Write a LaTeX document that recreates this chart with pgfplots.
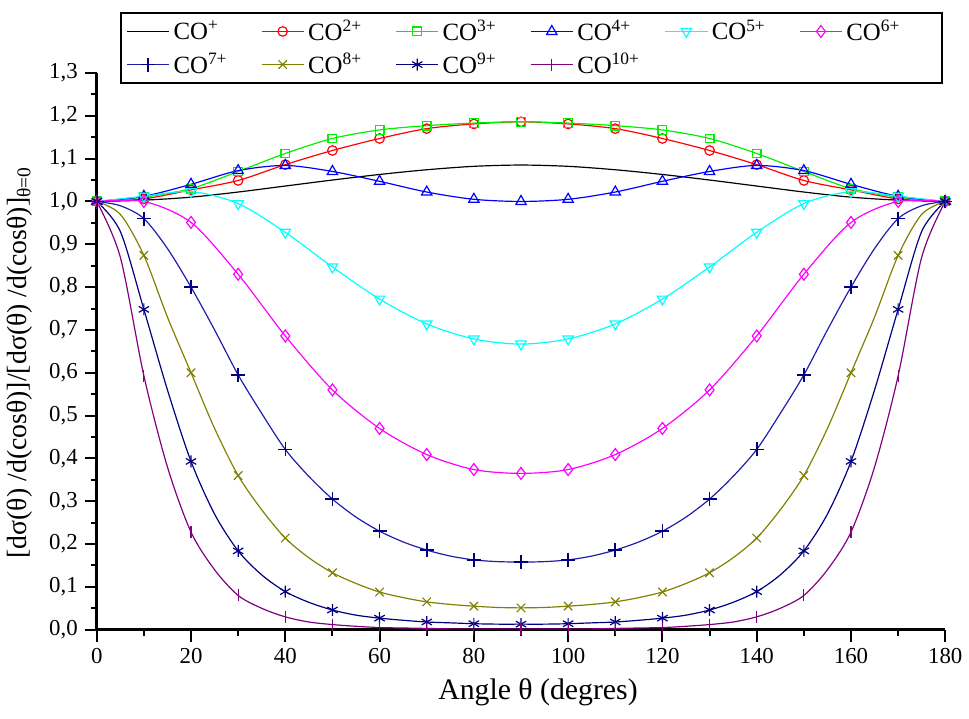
\documentclass[border=0pt]{standalone}
\usepackage{pgfplots}
\usepackage{pgfplotstable}
\pgfplotsset{compat=1.18}
\usepackage{fontspec}
\setmainfont{Liberation Serif}
\definecolor{cored}{RGB}{255,0,0}
\definecolor{cogreen}{RGB}{0,240,0}
\definecolor{coblue}{RGB}{0,0,255}
\definecolor{cocyan}{RGB}{0,255,255}
\definecolor{comag}{RGB}{255,0,255}
\definecolor{coseven}{RGB}{30,30,170}
\definecolor{coolive}{RGB}{128,128,0}
\definecolor{conavy}{RGB}{0,0,128}
\definecolor{copurple}{RGB}{128,0,128}
\newcommand{\lentry}[1]{\makebox[42bp][l]{CO\textsuperscript{#1}}}
\pgfplotstableread{
x co1 co2 co3 co4 co5 co6
0 1.000 1.000 1.000 1.000 1.000 1.000
10 1.003 1.006 1.010 1.012 1.012 1.000
20 1.010 1.027 1.030 1.040 1.023 0.951
30 1.022 1.049 1.070 1.072 0.995 0.830
40 1.036 1.086 1.112 1.084 0.928 0.686
50 1.050 1.119 1.147 1.070 0.847 0.560
60 1.063 1.147 1.167 1.047 0.772 0.470
70 1.074 1.170 1.177 1.022 0.714 0.409
80 1.082 1.181 1.183 1.005 0.679 0.374
90 1.085 1.186 1.186 1.000 0.667 0.365
100 1.082 1.181 1.183 1.005 0.679 0.374
110 1.074 1.170 1.177 1.022 0.714 0.409
120 1.063 1.147 1.167 1.047 0.772 0.470
130 1.050 1.119 1.147 1.070 0.847 0.560
140 1.036 1.086 1.112 1.084 0.928 0.686
150 1.022 1.049 1.070 1.072 0.995 0.830
160 1.010 1.027 1.030 1.040 1.023 0.951
170 1.003 1.006 1.010 1.012 1.012 1.000
180 1.000 1.000 1.000 1.000 1.000 1.000
}\tabA
\pgfplotstableread{
x co7 co8 co9 co10
0 1.000 1.000 1.000 1.000
5 0.990 0.970 0.930 0.870
10 0.960 0.874 0.748 0.593
15 0.890 0.730 0.560 0.380
20 0.800 0.600 0.393 0.228
25 0.700 0.470 0.270 0.140
30 0.595 0.360 0.184 0.080
35 0.505 0.280 0.128 0.050
40 0.421 0.214 0.089 0.030
45 0.358 0.168 0.064 0.018
50 0.305 0.133 0.046 0.012
55 0.263 0.108 0.034 0.008
60 0.230 0.088 0.027 0.005
65 0.205 0.075 0.022 0.004
70 0.186 0.065 0.018 0.003
75 0.172 0.059 0.016 0.002
80 0.163 0.055 0.014 0.002
85 0.159 0.052 0.013 0.002
90 0.158 0.051 0.013 0.002
95 0.159 0.052 0.013 0.002
100 0.163 0.055 0.014 0.002
105 0.172 0.059 0.016 0.002
110 0.186 0.065 0.018 0.003
115 0.205 0.075 0.022 0.004
120 0.230 0.088 0.027 0.005
125 0.263 0.108 0.034 0.008
130 0.305 0.133 0.046 0.012
135 0.358 0.168 0.064 0.018
140 0.421 0.214 0.089 0.030
145 0.505 0.280 0.128 0.050
150 0.595 0.360 0.184 0.080
155 0.700 0.470 0.270 0.140
160 0.800 0.600 0.393 0.228
165 0.890 0.730 0.560 0.380
170 0.960 0.874 0.748 0.593
175 0.990 0.970 0.930 0.870
180 1.000 1.000 1.000 1.000
}\tabB
\begin{document}
\begin{tikzpicture}
\begin{axis}[
  width=426bp, height=279.5bp, scale only axis,
  xmin=0, xmax=180, ymin=0, ymax=1.3,
  xtick={0,20,40,60,80,100,120,140,160,180},
  minor x tick num=1,
  ytick={0,0.1,0.2,0.3,0.4,0.5,0.6,0.7,0.8,0.9,1.0,1.1,1.2,1.3},
  minor y tick num=1,
  axis lines*=left,
  tick align=outside,
  major tick length=6bp, minor tick length=3bp,
  axis line style={line width=1.3pt},
  every tick/.style={line width=1pt, black},
  /pgf/number format/assume math mode=true,
  yticklabel style={/pgf/number format/.cd, fixed, fixed zerofill, precision=1, use comma},
  tick label style={font=\fontsize{11.5}{12}\selectfont},
  xlabel={Angle θ (degres)},
  ylabel={[dσ(θ) /d(cosθ)]/[dσ(θ) /d(cosθ)]\textsubscript{θ=0}},
  xlabel style={font=\fontsize{15}{16}\selectfont, at={(0.52,-21bp)}, anchor=north},
  ylabel style={font=\fontsize{14}{15}\selectfont, at={(-29bp,0.48)}, anchor=south},
  legend columns=6,
  legend style={at={(0.027,0.98)}, anchor=south west, draw=black, line width=1pt,
    font=\fontsize{12.5}{14}\selectfont, inner xsep=3bp, inner ysep=1bp,
    row sep=0bp,
    nodes={line width=0.6pt, inner ysep=2.5bp}},
  legend image code/.code={\draw[mark repeat=2,mark phase=2,#1] plot coordinates {(0cm,0cm) (0.37cm,0cm) (0.74cm,0cm)};},
  every axis plot/.append style={line width=0.6pt, smooth, tension=0.5},
]
\addplot[black, no markers] table[x=x, y=co1] {\tabA};
\addlegendentry{\lentry{+}}
\addplot[cored, mark=o, mark size=2.4pt] table[x=x, y=co2] {\tabA};
\addlegendentry{\lentry{2+}}
\addplot[cogreen, mark=square, mark size=2.2pt] table[x=x, y=co3] {\tabA};
\addlegendentry{\lentry{3+}}
\addplot[coblue, mark=triangle, mark size=3pt] table[x=x, y=co4] {\tabA};
\addlegendentry{\lentry{4+}}
\addplot[cocyan, mark=triangle, mark size=3pt, mark options={rotate=180}] table[x=x, y=co5] {\tabA};
\addlegendentry{\lentry{5+}}
\addplot[comag, mark=diamond, mark size=3pt] table[x=x, y=co6] {\tabA};
\addlegendentry{\makebox[43bp][l]{CO\textsuperscript{6+}}}
\addplot[coseven, mark=+, mark size=3.5pt, mark repeat=2, mark options={conavy, line width=0.8pt}] table[x=x, y=co7] {\tabB};
\addlegendentry{\lentry{7+}}
\addplot[coolive, mark=x, mark size=3pt, mark repeat=2] table[x=x, y=co8] {\tabB};
\addlegendentry{\lentry{8+}}
\addplot[conavy, mark=asterisk, mark size=3pt, mark repeat=2] table[x=x, y=co9] {\tabB};
\addlegendentry{\lentry{9+}}
\addplot[copurple, mark=|, mark size=3pt, mark repeat=2] table[x=x, y=co10] {\tabB};
\addlegendentry{\lentry{10+}}
\end{axis}
\path ([yshift=6bp]current bounding box.north) ++(0,0);
\path ([yshift=-3bp]current bounding box.south) ++(0,0);
\end{tikzpicture}
\end{document}
